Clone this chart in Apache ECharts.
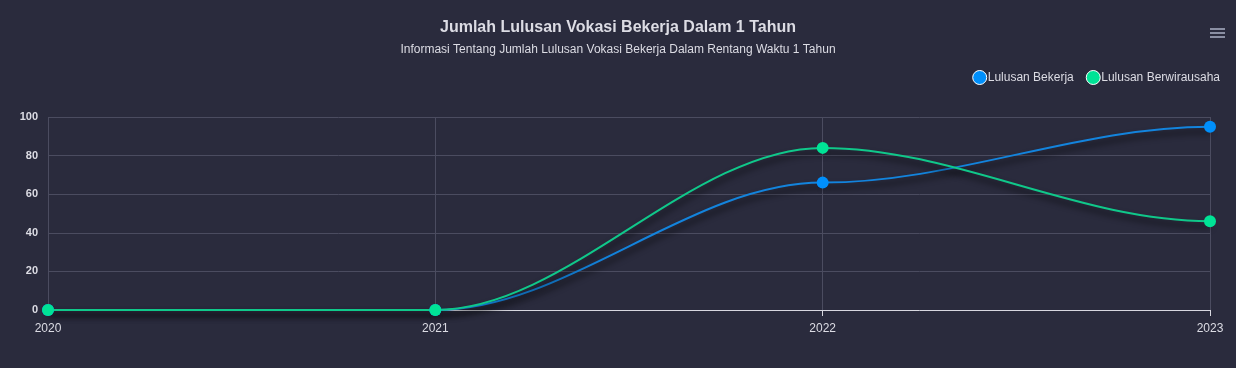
<!DOCTYPE html>
<html><head><meta charset="utf-8">
<script src="https://cdn.jsdelivr.net/npm/echarts@6/dist/echarts.min.js"></script>
<style>html,body{margin:0;padding:0;background:#2a2b3d;}#c{width:1236px;height:368px;}</style>
</head><body><div id="c"></div>
<script>
const categories = ['2020', '2021', '2022', '2023'];
const lulusanBekerja = [0, 0, 66, 95];
const lulusanBerwirausaha = [0, 0, 84, 46];
const yTicks = [0, 20, 40, 60, 80, 100];

const chart = echarts.init(document.getElementById('c'));
const font = '"Liberation Sans", Arial, sans-serif';

// smooth curve: each segment a cubic bezier with horizontal handles at both ends
function curveSeries(name, values, color) {
  return {
    name: name + ' curve', type: 'custom', z: 1, silent: true,
    data: values.map((v, i) => [i, v]),
    renderItem: function (params, api) {
      const i = params.dataIndex;
      if (i === 0) return null;
      const p0 = api.coord([i - 1, values[i - 1]]);
      const p1 = api.coord([i, values[i]]);
      const h = (p1[0] - p0[0]) * 0.34;
      return {
        type: 'bezierCurve',
        shape: {x1: p0[0], y1: p0[1], x2: p1[0], y2: p1[1],
                cpx1: p0[0] + h, cpy1: p0[1], cpx2: p1[0] - h, cpy2: p1[1]},
        style: {fill: null, stroke: color, lineWidth: 2,
                shadowColor: 'rgba(0,0,0,0.8)', shadowBlur: 6, shadowOffsetY: 5, shadowOffsetX: 1}
      };
    }
  };
}
function pointSeries(name, values, color) {
  return {
    name: name, type: 'line', data: values, z: 3,
    symbol: 'circle', symbolSize: 12,
    itemStyle: {color: color},
    lineStyle: {width: 0, opacity: 0}
  };
}

chart.setOption({
  backgroundColor: '#2a2b3d',
  animation: false,
  title: {
    text: 'Jumlah Lulusan Vokasi Bekerja Dalam 1 Tahun',
    subtext: 'Informasi Tentang Jumlah Lulusan Vokasi Bekerja Dalam Rentang Waktu 1 Tahun',
    left: 'center', top: 15, itemGap: 8,
    textStyle: {color: '#dcdce4', fontSize: 16, fontWeight: 'bold', fontFamily: font},
    subtextStyle: {color: '#dcdce4', fontSize: 12, fontFamily: font}
  },
  legend: {
    data: ['Lulusan Bekerja', 'Lulusan Berwirausaha'],
    right: 11, top: 65, itemWidth: 14, itemHeight: 14, itemGap: 12,
    icon: 'circle',
    textStyle: {color: '#dcdce4', fontSize: 12, fontFamily: font, padding: [0,0,0,-4]},
    itemStyle: {borderColor: '#ffffff', borderWidth: 1}
  },
  graphic: [
    {type: 'rect', shape: {x: 1210, y: 28, width: 15, height: 2}, style: {fill: '#8a8fa3'}},
    {type: 'rect', shape: {x: 1210, y: 32, width: 15, height: 2}, style: {fill: '#8a8fa3'}},
    {type: 'rect', shape: {x: 1210, y: 36, width: 15, height: 2}, style: {fill: '#8a8fa3'}}
  ],
  grid: {left: 48, right: 26, top: 117, bottom: 58, containLabel: false},
  xAxis: {
    type: 'category', data: categories, boundaryGap: false,
    axisLine: {lineStyle: {color: '#d8d8e0', width: 1}},
    axisTick: {show: true, length: 6, lineStyle: {color: '#d8d8e0'}},
    axisLabel: {color: '#dcdce4', fontSize: 12, fontFamily: font, margin: 13},
    splitLine: {show: true, lineStyle: {color: '#4b4c60', width: 1}}
  },
  yAxis: {
    type: 'value', min: yTicks[0], max: yTicks[yTicks.length-1], interval: 20,
    axisLine: {show: false}, axisTick: {show: false},
    axisLabel: {color: '#dcdce4', fontSize: 11, fontWeight: 'bold', fontFamily: font, margin: 10},
    splitLine: {lineStyle: {color: '#4b4c60', width: 1}}
  },
  series: [
    curveSeries('Lulusan Bekerja', lulusanBekerja, '#1384dd'),
    curveSeries('Lulusan Berwirausaha', lulusanBerwirausaha, '#10c88a'),
    pointSeries('Lulusan Bekerja', lulusanBekerja, '#008FFB'),
    pointSeries('Lulusan Berwirausaha', lulusanBerwirausaha, '#00E396')
  ]
});
</script></body></html>
